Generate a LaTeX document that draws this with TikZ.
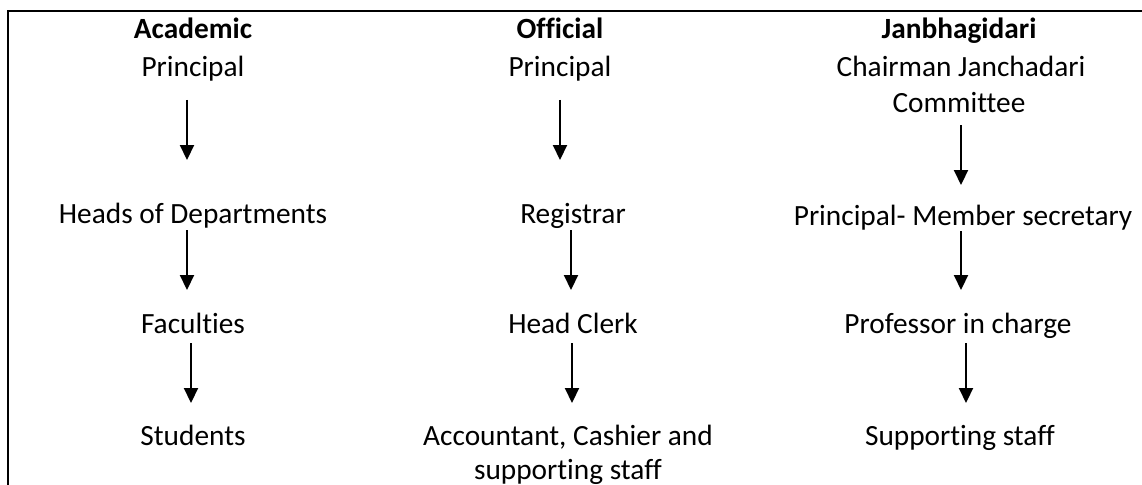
\documentclass[tikz,border=0pt]{standalone}
\usepackage{fontspec}
\setmainfont{Carlito}[Ligatures={NoCommon,NoRequired,NoContextual}]
\usetikzlibrary{arrows.meta}
\begin{document}
\begin{tikzpicture}[x=0.75pt,y=-0.75pt,
  lbl/.style={anchor=base,inner sep=0pt,font=\fontsize{22}{27}\selectfont},
  arr/.style={line width=1.6pt,-{Triangle[width=10.5pt,length=11.25pt]}},
  rule/.style={line width=1.3pt}]
\useasboundingbox (0,0) rectangle (1142,485);
% frame
\coordinate (fbl) at (8,486);
\coordinate (ftl) at (8,11);
\coordinate (ftr) at (1143,11);
\draw[rule] (fbl) -- (ftl) -- (ftr);
% column 1
\node[lbl] (a0) at (193,39) {\textbf{Academic}};
\node[lbl] (a1) at (193,77) {Principal};
\node[lbl] (a2) at (193,223) {Heads of Departments};
\node[lbl] (a3) at (193,333) {Faculties};
\node[lbl] (a4) at (193,445) {Students};
% column 2
\node[lbl] (b0) at (560,39) {\textbf{Official}};
\node[lbl] (b1) at (560,77) {Principal};
\node[lbl] (b2) at (573,223) {Registrar};
\node[lbl] (b3) at (573,333) {Head Clerk};
\node[lbl] (b4) at (568,445) {Accountant, Cashier and};
\node[lbl] (b5) at (568,479) {supporting staff};
% column 3
\node[lbl] (c0) at (959,39) {\textbf{Janbhagidari}};
\node[lbl] (c1) at (961,77) {Chairman Janchadari};
\node[lbl] (c2) at (959,113) {Committee};
\node[lbl] (c3) at (963,225) {Principal- Member secretary};
\node[lbl] (c4) at (958,333) {Professor in charge};
\node[lbl] (c5) at (960,445) {Supporting staff};
% arrow end points
\coordinate (a1s) at (187,100); \coordinate (a1e) at (187,160);
\coordinate (a2s) at (187,230); \coordinate (a2e) at (187,290);
\coordinate (a3s) at (191,343); \coordinate (a3e) at (191,403);
\coordinate (b1s) at (560,100); \coordinate (b1e) at (560,160);
\coordinate (b2s) at (571,230); \coordinate (b2e) at (571,290);
\coordinate (b3s) at (572,343); \coordinate (b3e) at (572,403);
\coordinate (c1s) at (961,125); \coordinate (c1e) at (961,185);
\coordinate (c2s) at (961,231); \coordinate (c2e) at (961,290);
\coordinate (c3s) at (966,343); \coordinate (c3e) at (966,403);
\draw[arr] (a1s) -- (a1e);
\draw[arr] (a2s) -- (a2e);
\draw[arr] (a3s) -- (a3e);
\draw[arr] (b1s) -- (b1e);
\draw[arr] (b2s) -- (b2e);
\draw[arr] (b3s) -- (b3e);
\draw[arr] (c1s) -- (c1e);
\draw[arr] (c2s) -- (c2e);
\draw[arr] (c3s) -- (c3e);
\end{tikzpicture}
\end{document}
